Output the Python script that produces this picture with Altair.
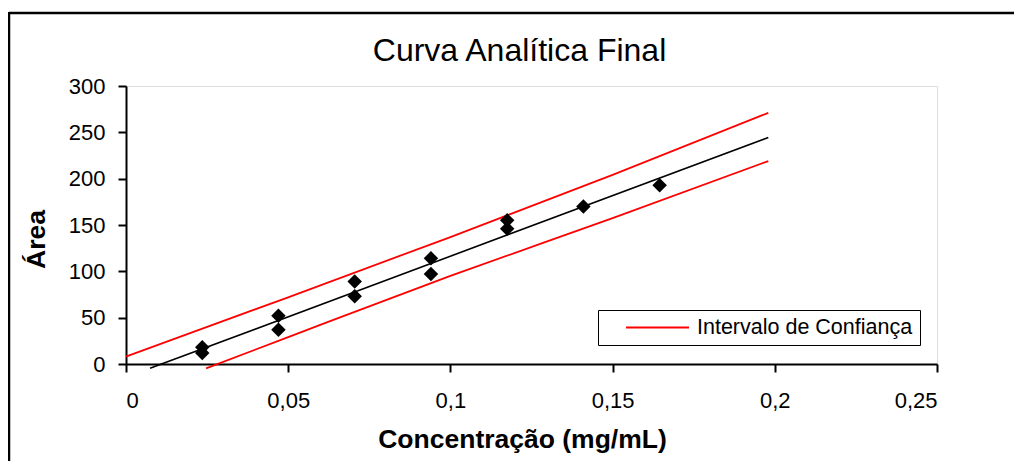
import altair as alt
import pandas as pd

# Measured points (Concentração mg/mL, Área)
conc = [0.0235, 0.0235, 0.047, 0.047, 0.0705, 0.0705, 0.094, 0.094, 0.1175, 0.1175, 0.141, 0.1645]
area = [18, 12, 52, 37, 89, 73, 114, 97, 155, 146, 170, 193]

# Regression line
fit_x = [0.0074, 0.198]
fit_y = [-4.7, 244.4]

# Confidence band lines
upper_x = [0.0, 0.05, 0.1, 0.15, 0.198]
upper_y = [8, 72, 137, 204, 271]
lower_x = [0.0247, 0.05, 0.1, 0.15, 0.198]
lower_y = [-4.7, 29, 95, 157.5, 219]

x_ticks = [0, 0.05, 0.1, 0.15, 0.2, 0.25]
y_ticks = [0, 50, 100, 150, 200, 250, 300]

FONT = "Liberation Sans"
LEGEND_LABEL = "Intervalo de Confiança"

pts = pd.DataFrame({"x": conc, "y": area})
fit = pd.DataFrame({"x": fit_x, "y": fit_y})
band = pd.DataFrame({
    "x": upper_x + lower_x,
    "y": upper_y + lower_y,
    "banda": ["sup"] * len(upper_x) + ["inf"] * len(lower_x),
    "serie": [LEGEND_LABEL] * (len(upper_x) + len(lower_x)),
})

xscale = alt.Scale(domain=[0, 0.25], nice=False, zero=False)
yscale = alt.Scale(domain=[0, 300], nice=False, zero=False)

xaxis = alt.Axis(
    values=x_ticks, title="Concentração (mg/mL)", grid=False,
    labelExpr="replace(toString(datum.value), '.', ',')",
    labelFont=FONT, labelFontSize=22, labelColor="#000", labelPadding=18,
    tickSize=8, tickWidth=2, tickColor="#000", domainColor="#000", domainWidth=2,
    titleFont=FONT, titleFontSize=26.5, titleFontWeight="bold", titleColor="#000",
    titleX=396, titleY=83, titleBaseline="alphabetic", titleAlign="center",
)
yaxis = alt.Axis(
    values=y_ticks, title="Área", grid=False,
    labelFont=FONT, labelFontSize=22, labelColor="#000", labelPadding=13,
    tickSize=8, tickWidth=2, tickColor="#000", domainColor="#000", domainWidth=2,
    titleFont=FONT, titleFontSize=26.5, titleFontWeight="bold", titleColor="#000",
    titleX=-90, titleY=153, titleAngle=270, titleBaseline="middle", titleAlign="center",
)

band_layer = alt.Chart(band).mark_line(strokeWidth=1.8, clip=False, interpolate="monotone").encode(
    x=alt.X("x:Q", scale=xscale, axis=xaxis),
    y=alt.Y("y:Q", scale=yscale, axis=yaxis),
    detail="banda:N",
    color=alt.Color(
        "serie:N",
        scale=alt.Scale(domain=[LEGEND_LABEL], range=["#FF0000"]),
        legend=alt.Legend(
            title=None, orient="none", legendX=472, legendY=224,
            symbolType="stroke", symbolSize=3969, symbolStrokeWidth=2,
            clipHeight=21, symbolOffset=20, labelOffset=7, labelLimit=400,
            labelFont=FONT, labelFontSize=21.5, labelColor="#000",
            strokeColor="#000", padding=7, fillColor="#fff",
        ),
    ),
)

fit_layer = alt.Chart(fit).mark_line(color="#000", strokeWidth=1.6, clip=False).encode(
    x=alt.X("x:Q", scale=xscale), y=alt.Y("y:Q", scale=yscale)
)

pt_layer = alt.Chart(pts).mark_point(shape="diamond", filled=True, color="#000", size=210, opacity=1).encode(
    x=alt.X("x:Q", scale=xscale), y=alt.Y("y:Q", scale=yscale)
)

frame = alt.Data(values=[{}])
top_border = alt.Chart(frame).mark_rule(color="#000", strokeWidth=2.5).encode(
    x=alt.value(-117), x2=alt.value(900), y=alt.value(-73)
)
left_border = alt.Chart(frame).mark_rule(color="#000", strokeWidth=2.5).encode(
    x=alt.value(-117), y=alt.value(-74), y2=alt.value(380)
)

chart = alt.layer(band_layer, fit_layer, pt_layer, top_border, left_border).properties(
    width=811, height=278,
    autosize=alt.AutoSizeParams(type="none"),
    padding={"left": 118, "top": 78, "right": 77, "bottom": 97},
    title=alt.TitleParams(
        "Curva Analítica Final", font=FONT, fontSize=32, fontWeight="normal",
        color="#000", anchor="middle", dx=-12, offset=-82, baseline="alphabetic",
        frame="group",
    ),
).configure_view(stroke="#9a9a9a", strokeWidth=1.5).configure_legend(
    strokeWidth=2
).configure(background="#ffffff")

chart.save("out.html", embed_options={"renderer": "svg", "actions": False})
